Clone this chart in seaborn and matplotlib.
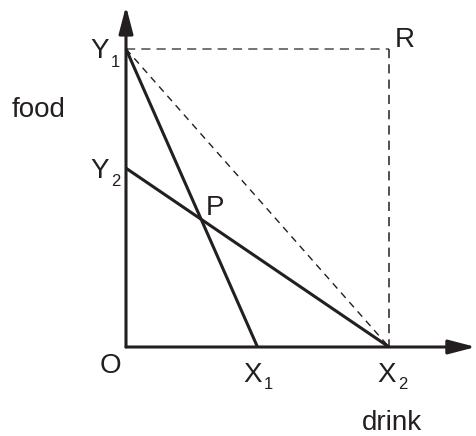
import matplotlib
matplotlib.use("Agg")
import matplotlib.pyplot as plt
import seaborn as sns
import pandas as pd

# ---- data (abstract units) ----
budget1_x = [0, 5]      # Y1 -> X1
budget1_y = [10, 0]
budget2_x = [0, 10]     # Y2 -> X2
budget2_y = [6, 0]
dash_diag_x = [0, 10]   # Y1 -> X2
dash_diag_y = [10, 0]
dash_top_x = [0, 10]    # Y1 -> R
dash_top_y = [10, 10]
dash_right_x = [10, 10] # R -> X2
dash_right_y = [10, 0]
axis_x_end = 13.3
axis_y_end = 11.44

sns.set_style("white")
plt.rcParams['font.family'] = ['Liberation Sans', 'DejaVu Sans']

W, H = 477, 436
fig = plt.figure(figsize=(W / 100, H / 100), dpi=100)
ax = fig.add_axes([0, 0, 1, 1])

OX, OY, SX, SY = 126, 347, 26.3, 29.8
def px(xp):
    return (xp - OX) / SX
def py(yp):
    return (OY - yp) / SY

ax.set_xlim(px(0), px(W))
ax.set_ylim(py(H), py(0))
ax.axis('off')

ink = '#231f20'
dash_col = '#4d4d4d'

def seg(xs, ys, **kw):
    sns.lineplot(data=pd.DataFrame({'x': xs, 'y': ys}), x='x', y='y', ax=ax,
                 estimator=None, sort=False, legend=False, **kw)

seg(dash_top_x, dash_top_y, color=dash_col, lw=1.1, dashes=(6, 4))
seg(dash_right_x, dash_right_y, color=ink, lw=1.1, dashes=(6, 4))
seg(dash_diag_x, dash_diag_y, color=ink, lw=1.0, dashes=(5, 4))
seg(budget1_x, budget1_y, color=ink, lw=2.2, solid_capstyle='butt')
seg(budget2_x, budget2_y, color=ink, lw=2.2, solid_capstyle='butt')

ap = dict(arrowstyle='-|>,head_length=1.65,head_width=0.43', color=ink, lw=2.2,
          shrinkA=0, shrinkB=0, mutation_scale=10)
ax.annotate('', xy=(0, axis_y_end), xytext=(0, 0), arrowprops=ap)
ax.annotate('', xy=(axis_x_end, 0), xytext=(0, 0), arrowprops=ap)

big = 20
small = 12
def t(xp, yp, s, size=big):
    ax.text(px(xp), py(yp), s, fontsize=size, color=ink, ha='left', va='baseline')

t(90, 58, 'Y'); t(111, 67, '1', small)
t(90, 178, 'Y'); t(111, 186, '2', small)
t(100, 373, 'O')
t(243, 382, 'X'); t(264, 389, '1', small)
t(377, 382, 'X'); t(398, 389, '2', small)
t(395, 47, 'R')
t(206, 215, 'P')
t(12, 117, 'food')
t(362, 430, 'drink')

fig.savefig('out.png', dpi=100)
